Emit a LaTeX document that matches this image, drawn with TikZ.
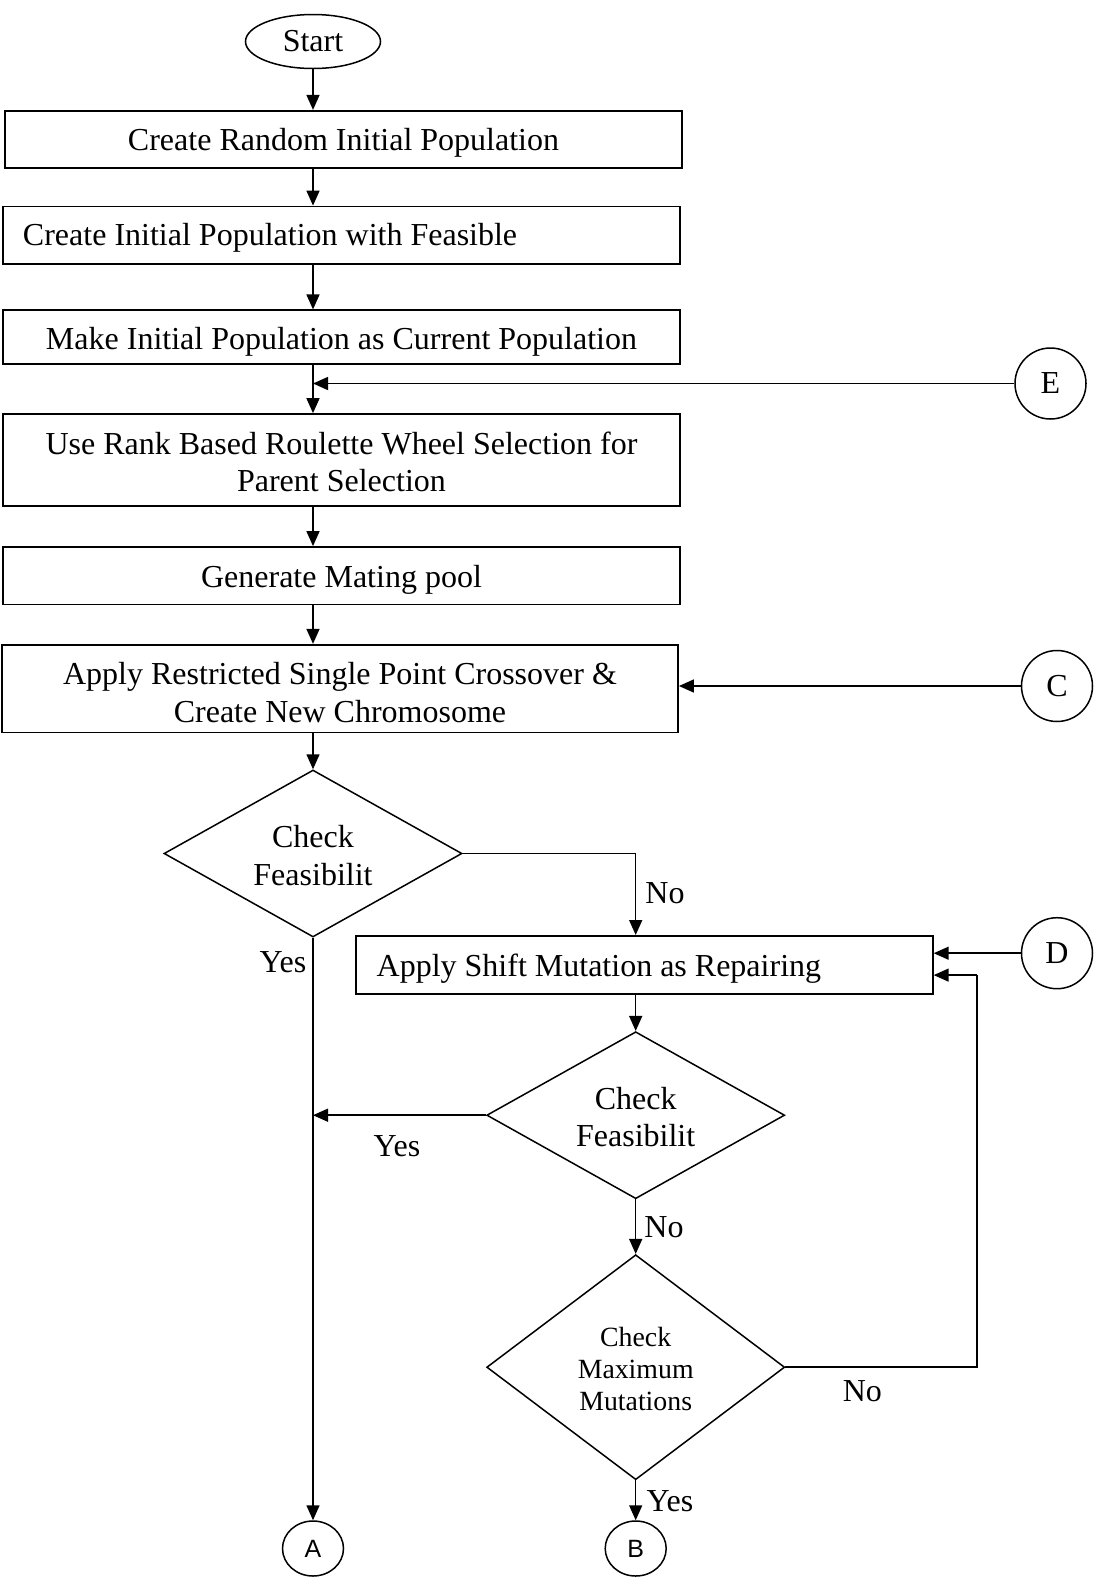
\documentclass[tikz,border=0pt]{standalone}
\usepackage{fontspec}
\setmainfont{Liberation Serif}
\newfontfamily\circsans{Liberation Sans}
\usetikzlibrary{shapes.geometric,arrows.meta}
\newcommand\mfont{\fontsize{32pt}{37.5pt}\selectfont}
\newcommand\sfontsmall{\fontsize{27.8pt}{32.2pt}\selectfont}
\begin{document}
\begin{tikzpicture}[x=1pt,y=-1pt,
  every node/.style={font=\mfont},
  proc/.style={draw, rectangle, line width=1.8pt, inner sep=0pt, align=center},
  procleft/.style={draw, rectangle, line width=1.8pt, inner ysep=0pt},
  decision/.style={draw, diamond, line width=1.5pt, inner sep=0pt, align=center},
  conn/.style={draw, circle, line width=1.5pt, inner sep=0pt, minimum size=71pt},
  connsmall/.style={draw, ellipse, line width=1.5pt, inner sep=0pt, minimum width=61pt, minimum height=55pt, font=\circsans\fontsize{25pt}{30pt}\selectfont},
  arr/.style={line width=1.5pt, -{Triangle[length=15pt,width=13pt]}},
  line/.style={line width=1.5pt},
  lbl/.style={inner sep=0pt}
]
\useasboundingbox (0,0) rectangle (1094,1580);

% nodes
\node[draw, ellipse, line width=1.5pt, minimum width=135pt, minimum height=54pt, inner sep=0pt] (start) at (313,41.5) {Start};
\node[proc, minimum width=677pt, minimum height=57.4pt, text height=28pt] (b1) at (343.5,139.5) {Create Random Initial Population};
\node[procleft, inner xsep=20pt, minimum width=677pt, minimum height=57.4pt, text height=28pt] (b2) at (341.5,235.2) {\makebox[637pt][l]{Create Initial Population with Feasible}};
\node[proc, minimum width=677pt, minimum height=53.4pt, text height=32pt] (b3) at (341.5,337) {Make Initial Population as Current Population};
\node[proc, minimum width=677pt, minimum height=91.7pt, text height=63.5pt] (b4) at (341.5,459.9) {Use Rank Based Roulette Wheel Selection for\\Parent Selection};
\node[proc, minimum width=677pt, minimum height=57.4pt, text height=30pt] (b5) at (341.5,575.7) {Generate Mating pool};
\node[proc, minimum width=676pt, minimum height=87.7pt, text height=67.5pt] (b6) at (340,688.6) {Apply Restricted Single Point Crossover \&\\Create New Chromosome};

\node[decision, minimum width=298pt, minimum height=167pt, aspect=1.78, text height=63.5pt] (d1) at (313,853.5) {Check\\Feasibilit};
\node[procleft, inner xsep=21pt, minimum width=577.2pt, minimum height=58.4pt, text height=30pt] (b7) at (644.2,965.1) {\makebox[535pt][l]{Apply Shift Mutation as Repairing}};
\node[decision, minimum width=298pt, minimum height=167pt, aspect=1.78, text height=63.5pt] (d2) at (635.7,1115.2) {Check\\Feasibilit};
\node[decision, minimum width=298pt, minimum height=225pt, aspect=1.32, font=\sfontsmall, text height=87.4pt] (d3) at (635.7,1367.2) {Check\\Maximum\\Mutations};

\node[conn] (E) at (1050.5,383.5) {E};
\node[conn] (C) at (1057,686) {C};
\node[conn] (D) at (1057,953.2) {D};
\node[connsmall] (A) at (313,1548.5) {A};
\node[connsmall] (B) at (635.7,1548.5) {B};

\coordinate (loop) at (977.1,975.1);

% connectors
\draw[arr] (start.south) -- (start.south |- b1.north);
\draw[arr] (start.south |- b1.south) -- (start.south |- b2.north);
\draw[arr] (start.south |- b2.south) -- (start.south |- b3.north);
\draw[arr] (start.south |- b3.south) -- (start.south |- b4.north);
\draw[arr] (E.west) -- (E.west -| start.south);
\draw[arr] (start.south |- b4.south) -- (start.south |- b5.north);
\draw[arr] (start.south |- b5.south) -- (start.south |- b6.north);
\draw[arr] (C.west) -- (C.west -| b6.east);
\draw[arr] (d1.north |- b6.south) -- (d1.north);
\draw[arr] (d1.east) -| (d2.north |- b7.north);
\draw[arr] (d1.south) -- (A.north);
\draw[arr] (D.west) -- (D.west -| b7.east);
\draw[arr] (d2.north |- b7.south) -- (d2.north);
\draw[arr] (d2.west) -- (d2.west -| d1.south);
\draw[arr] (d2.south) -- (d3.north);
\draw[line] (d3.east) -| (loop);
\draw[arr] (loop) -- (loop -| b7.east);
\draw[arr] (d3.south) -- (B.north);

% labels
\node[lbl] (l1) at (665,893.5) {No};
\node[lbl] (l2) at (283,962) {Yes};
\node[lbl] (l3) at (397,1146.4) {Yes};
\node[lbl] (l4) at (664,1227) {No};
\node[lbl] (l5) at (862.3,1391.2) {No};
\node[lbl] (l6) at (670,1501) {Yes};
\end{tikzpicture}
\end{document}
